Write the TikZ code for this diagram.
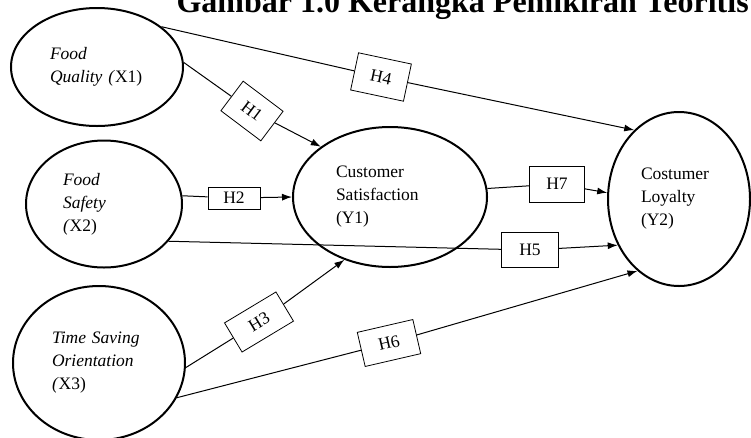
\documentclass[tikz,border=0pt]{standalone}
\usepackage{fontspec}
\setmainfont{Liberation Serif}
\usetikzlibrary{shapes.geometric,arrows.meta}

\newcommand{\lbl}{\fontsize{17.5}{23}\selectfont}
\tikzset{
  konstruk/.style={draw, ellipse, line width=2pt, inner sep=0pt, align=left, font=\lbl},
  hipo/.style={draw, rectangle, line width=0.8pt, inner sep=0pt, font=\lbl},
  panah/.style={-{Latex[length=10pt,width=7pt]}, line width=1pt},
  garis/.style={line width=1pt}
}

\begin{document}
\begin{tikzpicture}[x=1pt,y=-1pt]
        \useasboundingbox (0,0) rectangle (751,437) ;
        %\draw[very thin,gray,step=50] (0,0) grid (751,437) ;
        \node[anchor=base west, font=\fontsize{32}{36}\selectfont\bfseries] (judul)
        at (173,12) {Gambar 1.0 Kerangka Pemikiran Teoritis} ;
        % variabel
        \node[konstruk, minimum width=172, minimum height=118, text width=94] (x1)
        at (97,67) {\textit{Food}\\\textit{Quality (}X1)} ;
        \node[konstruk, minimum width=156, minimum height=127, text width=82] (x2)
        at (104,204) {\textit{Food}\\\textit{Safety}\\\textit{(}X2)} ;
        \node[konstruk, minimum width=172, minimum height=154, text width=94] (x3)
        at (99,363) {\textit{Time Saving}\\\textit{Orientation}\\\textit{(}X3)} ;
        \node[konstruk, minimum width=194, minimum height=140, text width=108] (y1)
        at (390,197) {Customer\\Satisfaction\\(Y1)} ;
        \node[konstruk, minimum width=142, minimum height=174, text width=76] (y2)
        at (679,199) {Costumer\\Loyalty\\(Y2)} ;
        % hipotesis
        \node[hipo, minimum width=50, minimum height=37, rotate=-37] (h1) at (252,111) {H1} ;
        \node[hipo, minimum width=52, minimum height=22] (h2) at (234,198) {H2} ;
        \node[hipo, minimum width=60, minimum height=34, rotate=31] (h3) at (259,322) {H3} ;
        \node[hipo, minimum width=54, minimum height=38, rotate=-12] (h4) at (381,77) {H4} ;
        \node[hipo, minimum width=57, minimum height=35] (h5) at (530,250) {H5} ;
        \node[hipo, minimum width=57, minimum height=35, rotate=13] (h6) at (389,343) {H6} ;
        \node[hipo, minimum width=55, minimum height=36] (h7) at (557,184) {H7} ;
        % panah
        \draw[garis] (x1.3) -- (h1) ;
        \draw[panah] (h1) -- (y1.144) ;
        \draw[garis] (x2.6) -- (h2) ;
        \draw[panah] (h2) -- (y1.180) ;
        \draw[garis] (x3.-3) -- (h3) ;
        \draw[panah] (h3) -- (y1.234) ;
        \draw[garis] (x1.32) -- (h4) ;
        \draw[panah] (h4) -- (y2.123) ;
        \draw[garis] (x2.-30) -- (h5) ;
        \draw[panah] (h5) -- (y2.217) ;
        \draw[garis] (x3.-24) -- (h6) ;
        \draw[panah] (h6) -- (y2.240) ;
        \draw[garis] (y1.5) -- (h7) ;
        \draw[panah] (h7) -- (y2.175) ;
\end{tikzpicture}
\end{document}
